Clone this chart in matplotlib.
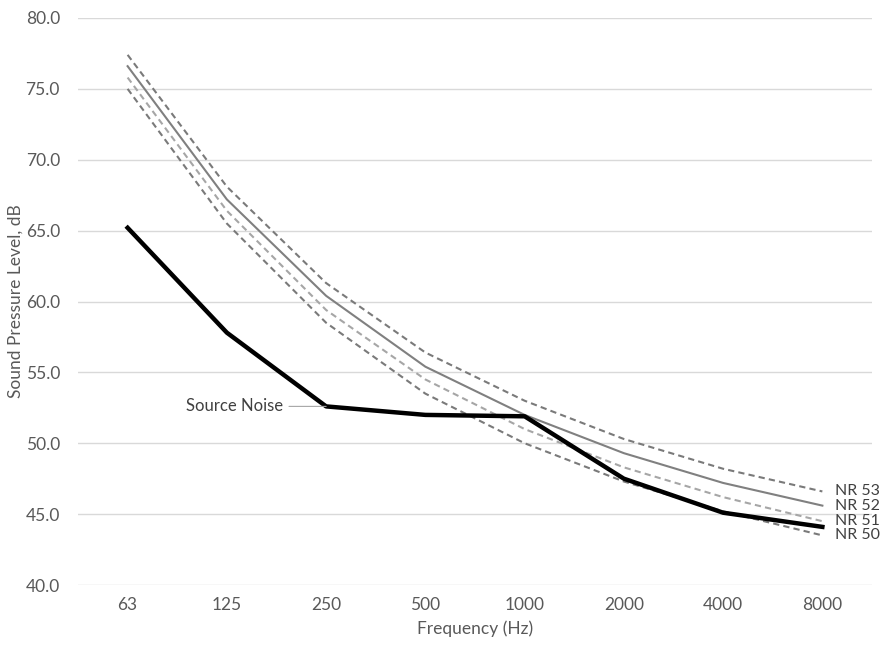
import matplotlib
matplotlib.use("Agg")
import matplotlib.pyplot as plt

freqs = ["63", "125", "250", "500", "1000", "2000", "4000", "8000"]
source_noise = [65.2, 57.8, 52.6, 52.0, 51.9, 47.5, 45.1, 44.1]
nr50 = [75.0, 65.5, 58.5, 53.5, 50.0, 47.3, 45.2, 43.5]
nr51 = [75.8, 66.4, 59.4, 54.5, 51.0, 48.3, 46.2, 44.5]
nr52 = [76.6, 67.2, 60.4, 55.4, 52.0, 49.3, 47.2, 45.6]
nr53 = [77.4, 68.1, 61.3, 56.4, 53.0, 50.3, 48.2, 46.6]
yticks = [40, 45, 50, 55, 60, 65, 70, 75, 80]

plt.rcParams['font.family'] = ['Lato', 'DejaVu Sans']

fig = plt.figure(figsize=(8.94, 6.47), dpi=100)
ax = fig.add_axes([78/894, 1-585/647, (872-78)/894, (585-18)/647])

x = list(range(len(freqs)))
dark = '#7a7a7a'
ax.plot(x, nr50, color=dark, lw=1.5, ls=(0, (3, 2)))
ax.plot(x, nr51, color='#a6a6a6', lw=1.5, ls=(0, (3, 2)))
ax.plot(x, nr52, color='#808080', lw=1.5, ls='-')
ax.plot(x, nr53, color=dark, lw=1.5, ls=(0, (3, 2)))
ax.plot(x, source_noise, color='black', lw=3.2, solid_joinstyle='round')

ax.set_xlim(-0.5, len(freqs) - 0.5)
ax.set_ylim(40, 80)
ax.set_xticks(x)
ax.set_xticklabels(freqs)
ax.set_yticks(yticks)
ax.set_yticklabels([f"{v:.1f}" for v in yticks])
ax.grid(axis='y', color='#d9d9d9', lw=1)
ax.set_axisbelow(True)
for s in ax.spines.values():
    s.set_visible(False)
ax.tick_params(length=0, colors='#595959', labelsize=12.5)
ax.tick_params(axis='x', pad=9)
ax.tick_params(axis='y', pad=13)

ax.set_xlabel("Frequency (Hz)", color='#595959', fontsize=12.5, labelpad=5)
ax.set_ylabel("Sound Pressure Level, dB", color='#595959', fontsize=12.5)
ax.yaxis.set_label_coords(-0.068, 0.5)

# right-side labels
last = len(freqs) - 1
labels = [("NR 53", nr53[-1]), ("NR 52", nr52[-1]), ("NR 51", nr51[-1]), ("NR 50", nr50[-1])]
for t, v in labels:
    ax.annotate(t, (last, v), xytext=(9, 0), textcoords='offset points',
                va='center', ha='left', color='#404040', fontsize=11.5, annotation_clip=False)

# Source noise leader label
ax.annotate("Source Noise", xy=(2, source_noise[2]), xytext=(1.57, source_noise[2]),
            ha='right', va='center', color='#404040', fontsize=12,
            arrowprops=dict(arrowstyle='-', color='#a6a6a6', lw=0.8, shrinkA=2, shrinkB=0))

fig.savefig("out.png", dpi=100, facecolor='white')
